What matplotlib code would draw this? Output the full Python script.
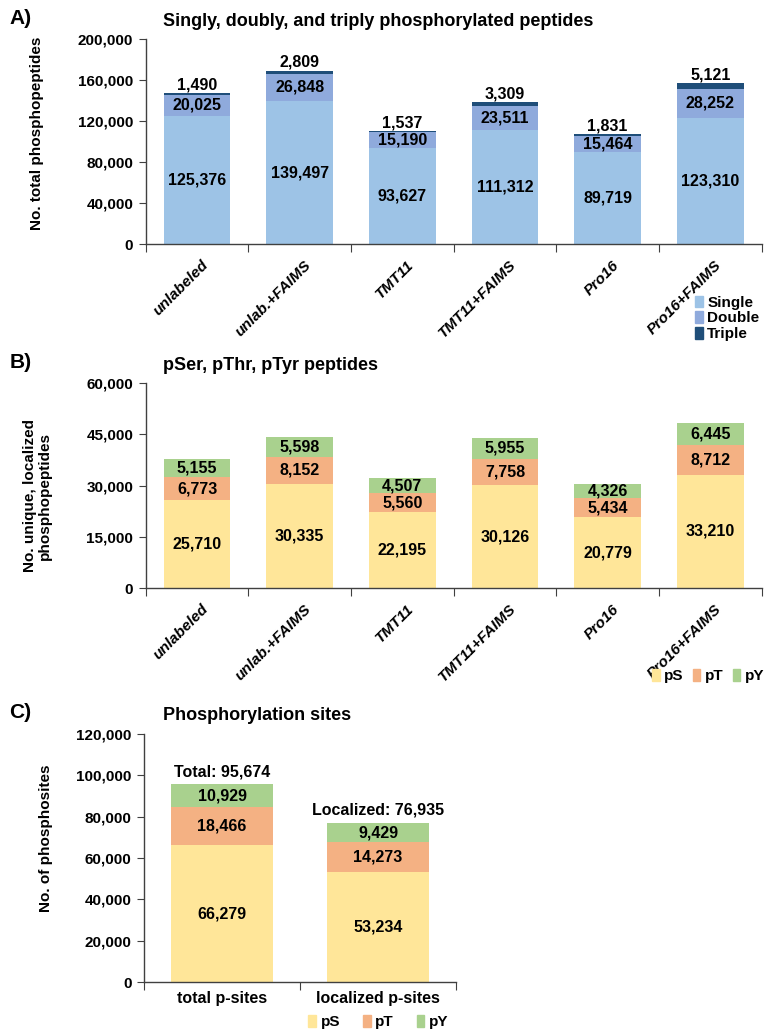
import matplotlib
matplotlib.use('Agg')
import matplotlib.pyplot as plt
import numpy as np
from matplotlib.patches import Patch

plt.rcParams['font.family'] = ['Liberation Sans', 'DejaVu Sans']
plt.rcParams['font.weight'] = 'bold'

# panel A data
conditions = ['unlabeled', 'unlab.+FAIMS', 'TMT11', 'TMT11+FAIMS', 'Pro16', 'Pro16+FAIMS']
single = [125376, 139497, 93627, 111312, 89719, 123310]
double = [20025, 26848, 15190, 23511, 15464, 28252]
triple = [1490, 2809, 1537, 3309, 1831, 5121]

# panel B data
pep_pS = [25710, 30335, 22195, 30126, 20779, 33210]
pep_pT = [6773, 8152, 5560, 7758, 5434, 8712]
pep_pY = [5155, 5598, 4507, 5955, 4326, 6445]

# panel C data
site_cats = ['total p-sites', 'localized p-sites']
site_tops = ['Total: 95,674', 'Localized: 76,935']
site_pS = [66279, 53234]
site_pT = [18466, 14273]
site_pY = [10929, 9429]

C_SINGLE, C_DOUBLE, C_TRIPLE = '#9dc3e6', '#8faadc', '#1f4e79'
C_PS, C_PT, C_PY = '#ffe699', '#f4b183', '#a9d18e'
FS = 11.5
TFS = 13

fig = plt.figure(figsize=(7.67, 10.30), dpi=100)


def fmt(v):
    return f'{v:,}'


def style_axes(ax, n, ymax, step):
    ax.set_xlim(-0.5, n - 0.5)
    ax.set_ylim(0, ymax)
    ax.spines['top'].set_visible(False)
    ax.spines['right'].set_visible(False)
    for s in ('left', 'bottom'):
        ax.spines[s].set_color('#404040')
        ax.spines[s].set_linewidth(1.0)
    yt = np.arange(0, ymax + 1, step)
    ax.set_yticks(yt)
    ax.set_yticklabels([fmt(int(v)) for v in yt], fontsize=11, fontweight='bold')
    ax.set_xticks(np.arange(-0.5, n, 1.0))
    ax.set_xticklabels([])
    ax.tick_params(axis='y', direction='out', length=5, color='#404040', pad=4)
    ax.tick_params(axis='x', direction='out', length=6, color='#404040')


def rotated_labels(ax, labels):
    for i, lab in enumerate(labels):
        ax.annotate(lab, xy=(i, 0), xycoords=('data', 'axes fraction'), xytext=(3, -10),
                    textcoords='offset points', rotation=45, ha='right', va='top',
                    rotation_mode='anchor', fontsize=11, fontweight='bold', style='italic')


def legend_handles(colors):
    return [Patch(color=c) for c in colors]


# ---------------- A ----------------
axA = fig.add_axes([0.190, 0.7631, 0.803, 0.199])
x = np.arange(len(conditions))
w = 0.65
axA.bar(x, single, w, color=C_SINGLE)
axA.bar(x, double, w, bottom=single, color=C_DOUBLE)
b2 = np.array(single) + np.array(double)
axA.bar(x, triple, w, bottom=b2, color=C_TRIPLE)
style_axes(axA, len(conditions), 200000, 40000)
for i in x:
    axA.text(i, single[i] / 2, fmt(single[i]), ha='center', va='center', fontsize=FS)
    axA.text(i, single[i] + double[i] / 2, fmt(double[i]), ha='center', va='center', fontsize=FS)
    axA.text(i, b2[i] + triple[i] + 800, fmt(triple[i]), ha='center', va='bottom', fontsize=FS)
rotated_labels(axA, conditions)
axA.set_ylabel('No. total phosphopeptides', fontsize=11, fontweight='bold')
axA.yaxis.set_label_coords(-0.165, 0.54)
fig.text(0.212, 0.979, 'Singly, doubly, and triply phosphorylated peptides', fontsize=TFS,
         fontweight='bold', va='center')
fig.text(0.012, 0.982, 'A)', fontsize=15, fontweight='bold', va='center')
fig.legend(legend_handles([C_SINGLE, C_DOUBLE, C_TRIPLE]), ['Single', 'Double', 'Triple'],
           loc='upper left', bbox_to_anchor=(0.906, 0.713),
           frameon=False, handlelength=0.5, handleheight=0.8, handletextpad=0.3, labelspacing=0.1,
           prop={'weight': 'bold', 'size': 11}, borderaxespad=0, borderpad=0)

# ---------------- B ----------------
axB = fig.add_axes([0.190, 0.4291, 0.803, 0.199])
axB.bar(x, pep_pS, w, color=C_PS)
axB.bar(x, pep_pT, w, bottom=pep_pS, color=C_PT)
bB = np.array(pep_pS) + np.array(pep_pT)
axB.bar(x, pep_pY, w, bottom=bB, color=C_PY)
style_axes(axB, len(conditions), 60000, 15000)
for i in x:
    axB.text(i, pep_pS[i] / 2, fmt(pep_pS[i]), ha='center', va='center', fontsize=FS)
    axB.text(i, pep_pS[i] + pep_pT[i] / 2, fmt(pep_pT[i]), ha='center', va='center', fontsize=FS)
    axB.text(i, bB[i] + pep_pY[i] / 2, fmt(pep_pY[i]), ha='center', va='center', fontsize=FS)
rotated_labels(axB, conditions)
axB.set_ylabel('No. unique, localized\nphosphopeptides', fontsize=11, fontweight='bold',
               linespacing=1.0)
axB.yaxis.set_label_coords(-0.153, 0.45)
fig.text(0.212, 0.645, 'pSer, pThr, pTyr peptides', fontsize=TFS, fontweight='bold', va='center')
fig.text(0.012, 0.648, 'B)', fontsize=15, fontweight='bold', va='center')
fig.legend(legend_handles([C_PS, C_PT, C_PY]), ['pS', 'pT', 'pY'], loc='center left',
           bbox_to_anchor=(0.850, 0.3435), ncol=3,
           frameon=False, handlelength=0.5, handleheight=0.8, handletextpad=0.3, columnspacing=0.6,
           prop={'weight': 'bold', 'size': 11}, borderaxespad=0, borderpad=0)

# ---------------- C ----------------
axC = fig.add_axes([0.1877, 0.0466, 0.407, 0.2408])
xc = np.arange(len(site_cats))
axC.bar(xc, site_pS, w, color=C_PS)
axC.bar(xc, site_pT, w, bottom=site_pS, color=C_PT)
bC = np.array(site_pS) + np.array(site_pT)
axC.bar(xc, site_pY, w, bottom=bC, color=C_PY)
style_axes(axC, len(site_cats), 120000, 20000)
for i in xc:
    axC.text(i, site_pS[i] / 2, fmt(site_pS[i]), ha='center', va='center', fontsize=FS)
    axC.text(i, site_pS[i] + site_pT[i] / 2, fmt(site_pT[i]), ha='center', va='center', fontsize=FS)
    axC.text(i, bC[i] + site_pY[i] / 2, fmt(site_pY[i]), ha='center', va='center', fontsize=FS)
    axC.text(i, bC[i] + site_pY[i] + 2500, site_tops[i], ha='center', va='bottom', fontsize=FS)
    axC.text(i, -0.035, site_cats[i], transform=axC.get_xaxis_transform(), ha='center', va='top',
             fontsize=FS)
axC.set_ylabel('No. of phosphosites', fontsize=11, fontweight='bold')
axC.yaxis.set_label_coords(-0.29, 0.58)
fig.text(0.212, 0.305, 'Phosphorylation sites', fontsize=TFS, fontweight='bold', va='center')
fig.text(0.012, 0.308, 'C)', fontsize=15, fontweight='bold', va='center')
fig.legend(legend_handles([C_PS, C_PT, C_PY]), ['pS', 'pT', 'pY'], loc='center left',
           bbox_to_anchor=(0.402, 0.0078), ncol=3,
           frameon=False, handlelength=0.5, handleheight=0.8, handletextpad=0.3, columnspacing=1.5,
           prop={'weight': 'bold', 'size': 11}, borderaxespad=0, borderpad=0)

fig.savefig('out.png', dpi=100)
